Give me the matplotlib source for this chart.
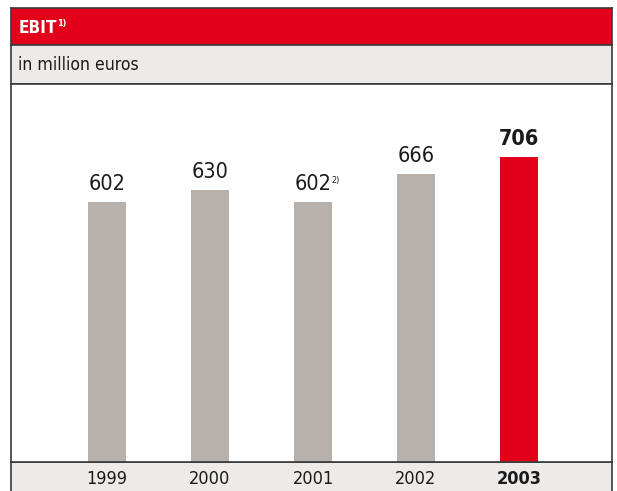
import matplotlib
matplotlib.use("Agg")
import matplotlib.pyplot as plt

years = ["1999", "2000", "2001", "2002", "2003"]
ebit = [602, 630, 602, 666, 706]
value_labels = ["602", "630", "602", "666", "706"]
label_notes = ["", "", "2)", "", ""]
title = "EBIT"
title_note = "1)"
subtitle = "in million euros"

RED = "#E2001A"
GREY_BAR = "#B8B0AA"
BAND = "#EDEBE9"
EDGE = "#3A3A3A"
INK = "#1A1A1A"

plt.rcParams["font.family"] = ["DejaVu Sans"]
plt.rcParams["font.stretch"] = "condensed"
COND = dict(fontstretch="condensed")

W, H = 617, 491
fig = plt.figure(figsize=(W / 100, H / 100), dpi=100)

def px_axes(x0, y0, x1, y1):
    # pixel box (top-left origin) -> figure fraction axes
    return fig.add_axes([x0 / W, 1 - y1 / H, (x1 - x0) / W, (y1 - y0) / H])

def band(y0, y1, color):
    ax = px_axes(11, y0, 612, y1)
    ax.set_facecolor(color)
    ax.set_xticks([]); ax.set_yticks([])
    ax.set_xlim(0, 1); ax.set_ylim(0, 1)
    for s in ax.spines.values():
        s.set_color(EDGE); s.set_linewidth(1.2)
    return ax

# header
hdr = band(8, 45, RED)
t = hdr.text(0.012, 0.45, title, color="white", fontsize=12.3, fontweight="bold",
             va="center", ha="left", transform=hdr.transAxes, **COND)
hdr.annotate(title_note, xy=(1, 1), xycoords=t, xytext=(0.3, 0), textcoords="offset points",
             color="white", fontsize=6.5, fontweight="bold", va="top", ha="left", **COND)

# subtitle band
sub = band(45, 84, BAND)
sub.text(0.012, 0.5, subtitle, color=INK, fontsize=12.6, va="center", ha="left",
         transform=sub.transAxes, **COND)

# year band
yr = band(462, 495, BAND)

# chart area
ax = px_axes(11, 84, 612, 462)
ax.set_xlim(-96 / 103, 505 / 103)
ax.set_ylim(0, 875)
ax.set_xticks([]); ax.set_yticks([])
for s in ax.spines.values():
    s.set_color(EDGE); s.set_linewidth(1.2)

x = list(range(len(years)))
colors = [GREY_BAR] * (len(years) - 1) + [RED]
ax.bar(x, ebit, width=0.37, color=colors, zorder=2)

for i, (v, lab, note) in enumerate(zip(ebit, value_labels, label_notes)):
    last = i == len(years) - 1
    tt = ax.annotate(lab, xy=(i, v), xytext=(0, 6), textcoords="offset points",
                     ha="center", va="bottom", fontsize=15.5,
                     fontweight="bold" if last else "normal", color=INK, **COND)
    if note:
        ax.annotate(note, xy=(1, 1), xycoords=tt, xytext=(0.3, -1.5),
                    textcoords="offset points", fontsize=6.5, va="top", ha="left",
                    color=INK, **COND)

# year labels aligned with bars
for i, y in enumerate(years):
    last = i == len(years) - 1
    xf = ax.transData.transform((i, 0))[0]
    xa = yr.transAxes.inverted().transform((xf, 0))[0]
    yr.text(xa, 15.5 / 33, y, ha="center", va="center",
            fontsize=13, fontweight="bold" if last else "normal", color=INK,
            transform=yr.transAxes, **COND)

fig.savefig("out.png", dpi=100)
